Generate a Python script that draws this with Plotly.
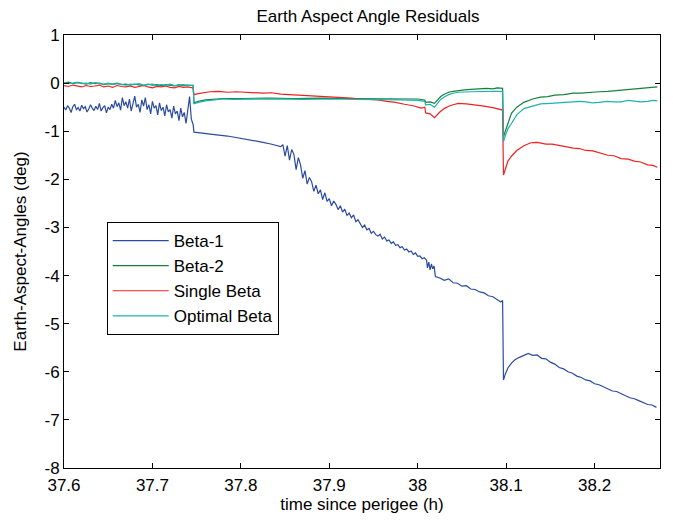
import plotly.graph_objects as go

# ---------------- data ----------------
t_beta1 = [
    # noisy start
    37.600, 37.602, 37.604, 37.606, 37.608, 37.610, 37.612, 37.614, 37.616, 37.618,
    37.620, 37.622, 37.624, 37.626, 37.628, 37.630, 37.632, 37.634, 37.636, 37.638,
    37.640, 37.642, 37.644, 37.646, 37.648, 37.650, 37.652, 37.654, 37.656, 37.658,
    37.660, 37.662, 37.664, 37.666, 37.668, 37.670, 37.672, 37.674, 37.676, 37.678,
    37.680, 37.682, 37.684, 37.686, 37.688, 37.690, 37.692, 37.694, 37.696, 37.698,
    37.700, 37.702, 37.704, 37.706, 37.708, 37.710, 37.712, 37.714, 37.716, 37.718,
    37.720, 37.722, 37.724, 37.726, 37.728, 37.730, 37.732, 37.734, 37.736, 37.738,
    37.740, 37.742, 37.744, 37.746,
    # quiet stretch
    37.747, 37.755, 37.765, 37.775, 37.785, 37.795, 37.805, 37.815, 37.825, 37.835,
    37.845,
    # noisy descent
    37.8475, 37.8500, 37.8525, 37.8550, 37.8575, 37.8600, 37.8625, 37.8650, 37.8675, 37.8700,
    37.8725, 37.8750, 37.8775, 37.8800, 37.8825, 37.8850, 37.8875, 37.8900, 37.8925, 37.8950,
    37.8975, 37.9000, 37.9025, 37.9050, 37.9075, 37.9100, 37.9125, 37.9150, 37.9175, 37.9200,
    37.9225, 37.9250, 37.9275, 37.9300, 37.9325, 37.9350, 37.9375, 37.9400, 37.9425, 37.9450,
    37.9475, 37.9500, 37.9525, 37.9550, 37.9575, 37.9600, 37.9625, 37.9650, 37.9675, 37.9700,
    37.9725, 37.9750, 37.9775, 37.9800, 37.9825, 37.9850, 37.9875, 37.9900, 37.9925, 37.9950,
    37.9975, 38.0000, 38.0025, 38.0050, 38.0075, 38.0100, 38.0110, 38.0125, 38.0140, 38.0155,
    38.0170, 38.0185, 38.0200,
    # before the big drop
    38.025, 38.030, 38.035, 38.040, 38.045, 38.050, 38.055, 38.060, 38.065, 38.070,
    38.075, 38.080, 38.085, 38.090, 38.094, 38.096,
    # after the big drop
    38.097, 38.099, 38.102, 38.106, 38.110, 38.115, 38.120, 38.125, 38.130, 38.135,
    38.140, 38.145, 38.150, 38.155, 38.160, 38.165, 38.170, 38.175, 38.180, 38.185,
    38.190, 38.195, 38.200, 38.205, 38.210, 38.215, 38.220, 38.225, 38.230, 38.235,
    38.240, 38.245, 38.250, 38.255, 38.260, 38.265, 38.270,
]
v_beta1 = [
    -0.50, -0.56, -0.47, -0.52, -0.61, -0.49, -0.44, -0.55, -0.51, -0.58,
    -0.46, -0.53, -0.49, -0.60, -0.54, -0.45, -0.52, -0.57, -0.48, -0.55,
    -0.42, -0.58, -0.51, -0.47, -0.62, -0.50, -0.55, -0.44, -0.52, -0.36,
    -0.49, -0.41, -0.56, -0.30, -0.47, -0.39, -0.52, -0.33, -0.58, -0.42,
    -0.27, -0.50, -0.44, -0.61, -0.35, -0.48, -0.30, -0.55, -0.45, -0.64,
    -0.38, -0.52, -0.47, -0.66, -0.41, -0.57, -0.50, -0.68, -0.45, -0.60,
    -0.55, -0.73, -0.48, -0.64, -0.58, -0.78, -0.52, -0.70, -0.61, -0.84,
    -0.57, -0.28, -0.75, -0.86,
    -1.02, -1.04, -1.05, -1.08, -1.10, -1.13, -1.17, -1.20, -1.23, -1.27,
    -1.32,
    -1.28, -1.52, -1.30, -1.60, -1.38, -1.48, -1.80, -1.55, -1.70, -1.98,
    -1.82, -2.10, -1.96, -2.05, -2.25, -2.12, -2.30, -2.22, -2.42, -2.28,
    -2.46, -2.40, -2.55, -2.45, -2.52, -2.63, -2.55, -2.68, -2.62, -2.75,
    -2.70, -2.80, -2.74, -2.88, -2.84, -2.93, -3.00, -2.95, -3.05, -3.02,
    -3.12, -3.08, -3.15, -3.18, -3.14, -3.24, -3.20, -3.28, -3.26, -3.33,
    -3.30, -3.37, -3.36, -3.42, -3.40, -3.47, -3.45, -3.51, -3.49, -3.56,
    -3.53, -3.60, -3.59, -3.65, -3.63, -3.68, -3.84, -3.72, -3.88, -3.76,
    -3.86, -3.80, -4.02,
    -4.05, -4.10, -4.07, -4.15, -4.16, -4.22, -4.21, -4.28, -4.29, -4.34,
    -4.36, -4.42, -4.44, -4.50, -4.55, -4.52,
    -6.17, -6.05, -5.92, -5.82, -5.75, -5.70, -5.66, -5.62, -5.66, -5.65,
    -5.72, -5.73, -5.80, -5.84, -5.91, -5.94, -6.00, -6.03, -6.09, -6.12,
    -6.17, -6.19, -6.25, -6.27, -6.31, -6.36, -6.40, -6.41, -6.46, -6.50,
    -6.54, -6.56, -6.60, -6.64, -6.68, -6.69, -6.74,
]

t_beta2 = [
    37.600, 37.605, 37.610, 37.615, 37.620, 37.625, 37.630, 37.635, 37.640, 37.645,
    37.650, 37.655, 37.660, 37.665, 37.670, 37.675, 37.680, 37.685, 37.690, 37.695,
    37.700, 37.705, 37.710, 37.715, 37.720, 37.725, 37.730, 37.735, 37.740, 37.746,
    37.747, 37.752, 37.760, 37.770, 37.780, 37.800, 37.830, 37.860, 37.890, 37.920,
    37.950, 37.980, 38.000, 38.004, 38.008, 38.009, 38.014, 38.019, 38.022, 38.026,
    38.030, 38.035, 38.040, 38.046, 38.053, 38.060, 38.066, 38.072, 38.078, 38.085,
    38.090, 38.096,
    38.097, 38.099, 38.102, 38.106, 38.112, 38.120, 38.130, 38.139, 38.147, 38.155,
    38.165, 38.176, 38.185, 38.195, 38.205, 38.215, 38.228, 38.240, 38.255, 38.271,
]
v_beta2 = [
    0.00, 0.02, -0.01, 0.01, 0.00, -0.02, 0.01, -0.01, 0.00, -0.03,
    -0.01, -0.02, 0.00, -0.03, -0.02, -0.04, -0.02, -0.03, -0.05, -0.02,
    -0.04, -0.03, -0.05, -0.03, -0.04, -0.06, -0.03, -0.05, -0.04, -0.05,
    -0.41, -0.38, -0.35, -0.33, -0.32, -0.32, -0.31, -0.32, -0.31, -0.32,
    -0.32, -0.33, -0.33, -0.34, -0.35, -0.40, -0.39, -0.42, -0.36, -0.28,
    -0.23, -0.19, -0.17, -0.15, -0.14, -0.13, -0.12, -0.12, -0.11, -0.12,
    -0.10, -0.11,
    -1.12, -1.00, -0.85, -0.63, -0.50, -0.40, -0.33, -0.29, -0.28, -0.25,
    -0.24, -0.21, -0.21, -0.19, -0.18, -0.17, -0.15, -0.12, -0.11, -0.08,
]

t_single = [
    37.600, 37.605, 37.610, 37.615, 37.620, 37.625, 37.630, 37.635, 37.640, 37.645,
    37.650, 37.655, 37.660, 37.665, 37.670, 37.675, 37.680, 37.685, 37.690, 37.695,
    37.700, 37.705, 37.710, 37.715, 37.720, 37.725, 37.730, 37.735, 37.740, 37.746,
    37.747, 37.752, 37.758, 37.765, 37.775, 37.785, 37.795, 37.805, 37.815, 37.825,
    37.835, 37.845, 37.855, 37.865, 37.875, 37.885, 37.895, 37.905, 37.915, 37.925,
    37.935, 37.945, 37.955, 37.965, 37.975, 37.985, 37.995, 38.004, 38.008,
    38.009, 38.014, 38.019, 38.022, 38.025, 38.030, 38.035, 38.040, 38.046, 38.055,
    38.065, 38.075, 38.085, 38.094, 38.096,
    38.097, 38.099, 38.102, 38.106, 38.112, 38.120, 38.128, 38.135, 38.145, 38.152,
    38.160, 38.168, 38.176, 38.183, 38.190, 38.198, 38.205, 38.215, 38.222, 38.230,
    38.238, 38.245, 38.252, 38.260, 38.266, 38.271,
]
v_single = [
    -0.05, -0.07, -0.04, -0.06, -0.08, -0.05, -0.07, -0.06, -0.04, -0.08,
    -0.06, -0.09, -0.05, -0.07, -0.08, -0.06, -0.09, -0.07, -0.05, -0.08,
    -0.10, -0.07, -0.08, -0.06, -0.09, -0.10, -0.07, -0.09, -0.08, -0.10,
    -0.24, -0.22, -0.20, -0.18, -0.17, -0.19, -0.18, -0.19, -0.20, -0.21,
    -0.20, -0.23, -0.24, -0.25, -0.26, -0.27, -0.27, -0.29, -0.30, -0.31,
    -0.33, -0.34, -0.35, -0.38, -0.40, -0.44, -0.47, -0.52, -0.50,
    -0.62, -0.64, -0.72, -0.66, -0.60, -0.53, -0.48, -0.45, -0.42, -0.43,
    -0.45, -0.48, -0.51, -0.55, -0.56,
    -1.91, -1.80, -1.62, -1.52, -1.40, -1.30, -1.24, -1.23, -1.27, -1.27,
    -1.30, -1.33, -1.35, -1.36, -1.40, -1.41, -1.45, -1.50, -1.51, -1.57,
    -1.58, -1.62, -1.64, -1.70, -1.71, -1.75,
]

t_optimal = [
    37.600, 37.605, 37.610, 37.615, 37.620, 37.625, 37.630, 37.635, 37.640, 37.645,
    37.650, 37.655, 37.660, 37.665, 37.670, 37.675, 37.680, 37.685, 37.690, 37.695,
    37.700, 37.705, 37.710, 37.715, 37.720, 37.725, 37.730, 37.735, 37.740, 37.746,
    37.747, 37.752, 37.760, 37.770, 37.780, 37.790, 37.810, 37.840, 37.870, 37.900,
    37.930, 37.960, 37.980, 38.000, 38.004, 38.008,
    38.009, 38.014, 38.019, 38.022, 38.026, 38.030, 38.035, 38.040, 38.046, 38.060,
    38.072, 38.085, 38.096,
    38.097, 38.099, 38.102, 38.106, 38.112, 38.120, 38.130, 38.139, 38.150, 38.158,
    38.165, 38.176, 38.184, 38.190, 38.198, 38.205, 38.215, 38.222, 38.230, 38.238,
    38.245, 38.252, 38.260, 38.266, 38.271,
]
v_optimal = [
    0.01, -0.01, 0.00, 0.02, -0.01, 0.00, -0.02, 0.01, -0.01, -0.02,
    0.00, -0.03, -0.01, -0.02, -0.04, -0.02, -0.03, -0.01, -0.04, -0.03,
    -0.02, -0.05, -0.03, -0.04, -0.02, -0.05, -0.04, -0.03, -0.05, -0.04,
    -0.43, -0.40, -0.37, -0.35, -0.33, -0.34, -0.33, -0.33, -0.34, -0.33,
    -0.34, -0.34, -0.35, -0.36, -0.37, -0.38,
    -0.45, -0.44, -0.50, -0.42, -0.34, -0.29, -0.24, -0.21, -0.19, -0.18,
    -0.17, -0.17, -0.17,
    -1.22, -1.10, -0.95, -0.84, -0.66, -0.53, -0.47, -0.43, -0.42, -0.41,
    -0.40, -0.40, -0.38, -0.39, -0.41, -0.40, -0.38, -0.39, -0.39, -0.36,
    -0.37, -0.39, -0.38, -0.36, -0.37,
]

series_names = ["Beta-1", "Beta-2", "Single Beta", "Optimal Beta"]
series_colors = ["#2B4BA3", "#1A7F3C", "#EE2222", "#1DB3AE"]

x_tickvals = [37.6, 37.7, 37.8, 37.9, 38.0, 38.1, 38.2]
x_ticktext = ["37.6", "37.7", "37.8", "37.9", "38", "38.1", "38.2"]
y_tickvals = [1, 0, -1, -2, -3, -4, -5, -6, -7, -8]
y_ticktext = ["1", "0", "-1", "-2", "-3", "-4", "-5", "-6", "-7", "-8"]

# ---------------- figure ----------------
FONT = "Arial, Liberation Sans, Helvetica, sans-serif"

fig = go.Figure()
for name, color, tx, vy in zip(
    series_names, series_colors,
    [t_beta1, t_beta2, t_single, t_optimal],
    [v_beta1, v_beta2, v_single, v_optimal],
):
    fig.add_trace(go.Scatter(x=tx, y=vy, mode="lines", name=name,
                             line=dict(color=color, width=1.2)))

axis_common = dict(
    showline=True, linecolor="black", linewidth=1, mirror="ticks",
    ticks="inside", ticklen=5, tickcolor="black", tickwidth=1,
    showgrid=False, zeroline=False,
    tickfont=dict(family=FONT, size=17, color="black"),
)

fig.update_layout(
    width=673, height=523,
    paper_bgcolor="white", plot_bgcolor="white",
    margin=dict(l=52, r=21, t=27, b=63),
    font=dict(family=FONT, size=17, color="black"),
    title=dict(text="Earth Aspect Angle Residuals", x=0.535, xanchor="center",
               y=1.0, yanchor="top", yref="container",
               pad=dict(t=2, b=0, l=0, r=0),
               font=dict(family=FONT, size=17, color="black")),
    xaxis=dict(range=[37.6, 38.274], tickvals=x_tickvals, ticktext=x_ticktext,
               ticklabelstandoff=2,
               title=dict(text="time since perigee (h)", standoff=0,
                          font=dict(family=FONT, size=17)),
               **axis_common),
    yaxis=dict(range=[-8, 1], tickvals=y_tickvals, ticktext=y_ticktext,
               title=dict(text="Earth-Aspect-Angles (deg)", standoff=13,
                          font=dict(family=FONT, size=17)),
               **axis_common),
    legend=dict(x=(103 - 60) / 600, y=(468 - 222) / 433, xanchor="left", yanchor="top",
                bgcolor="white", bordercolor="black", borderwidth=1, itemwidth=56,
                font=dict(family=FONT, size=17, color="black")),
    showlegend=True,
)

fig.write_html("out.html")
